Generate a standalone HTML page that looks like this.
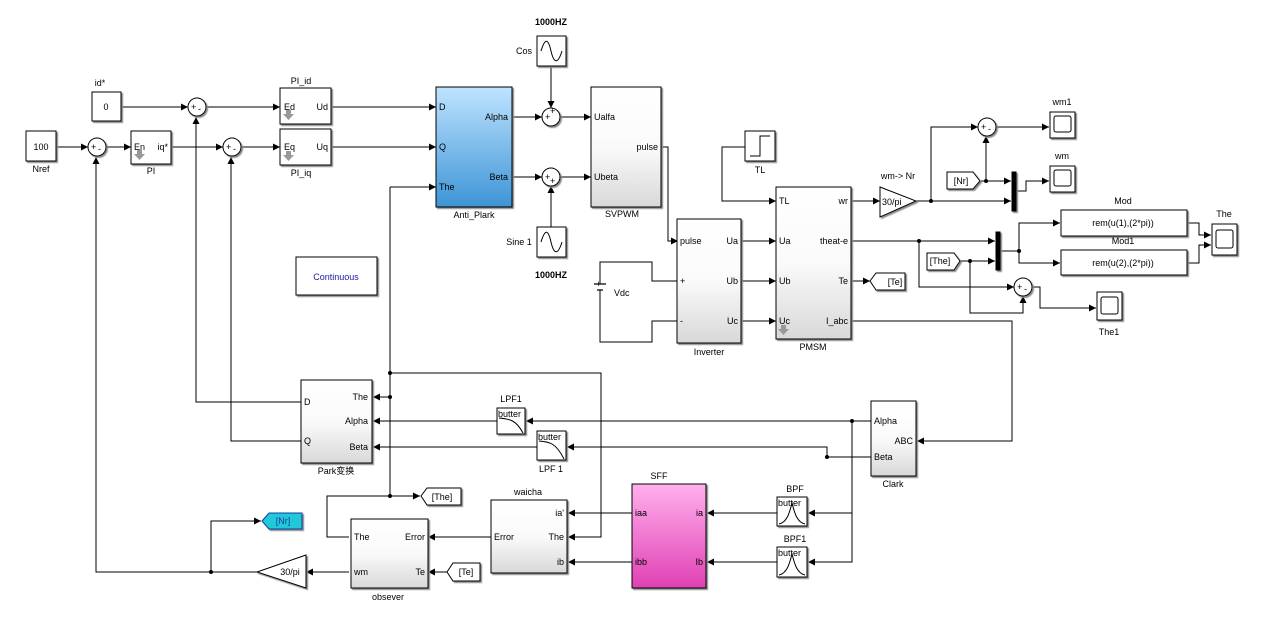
<!DOCTYPE html>
<html><head><meta charset="utf-8"><style>
html,body{margin:0;padding:0;background:#fff;}
svg{display:block;font-family:"Liberation Sans","Noto Sans CJK SC",sans-serif;}
text{font-size:9px;fill:#000;}
</style></head><body>
<svg width="1267" height="621" viewBox="0 0 1267 621" xmlns="http://www.w3.org/2000/svg">
<defs>
<marker id="a" markerWidth="8" markerHeight="8" refX="7" refY="4" orient="auto" markerUnits="userSpaceOnUse"><path d="M0,0.5 L7,4 L0,7.5z" fill="#000"/></marker>
<linearGradient id="g" x1="0" y1="0" x2="0" y2="1"><stop offset="0" stop-color="#fff"/><stop offset="0.5" stop-color="#fafafa"/><stop offset="1" stop-color="#d8d8d8"/></linearGradient>
<linearGradient id="b" x1="0" y1="0" x2="0" y2="1"><stop offset="0" stop-color="#bfe3ff"/><stop offset="1" stop-color="#3d94d6"/></linearGradient>
<linearGradient id="p" x1="0" y1="0" x2="0" y2="1"><stop offset="0" stop-color="#ffb0ec"/><stop offset="1" stop-color="#e040b4"/></linearGradient>
<filter id="s"><feDropShadow dx="1.5" dy="1.5" stdDeviation="0.6" flood-color="#888"/></filter>
</defs>
<g stroke="#000" stroke-width="1" fill="none">
<path d="M56,147H88" marker-end="url(#a)"/>
<path d="M106,147H131" marker-end="url(#a)"/>
<path d="M171,147H223" marker-end="url(#a)"/>
<path d="M241,147H280" marker-end="url(#a)"/>
<path d="M121,107H188" marker-end="url(#a)"/>
<path d="M206,107H280" marker-end="url(#a)"/>
<path d="M331,107H436" marker-end="url(#a)"/>
<path d="M331,147H436" marker-end="url(#a)"/>
<path d="M512,117H542" marker-end="url(#a)"/>
<path d="M512,177H542" marker-end="url(#a)"/>
<path d="M560,117H591" marker-end="url(#a)"/>
<path d="M560,177H591" marker-end="url(#a)"/>
<path d="M551,66V108" marker-end="url(#a)"/>
<path d="M551,227V186" marker-end="url(#a)"/>
<path d="M661,147H668V241H678" marker-end="url(#a)"/>
<path d="M390,187H436" marker-end="url(#a)"/>
<path d="M390,187V496"/>
<path d="M600,275V262H652V281H677"/>
<path d="M600,303V342H652V321H677"/>
<path d="M594,284H606M597,290H603" stroke-width="1.2"/>
<path d="M600,284V275M600,290V303"/>
<path d="M741,241H776" marker-end="url(#a)"/>
<path d="M741,281H776" marker-end="url(#a)"/>
<path d="M741,321H776" marker-end="url(#a)"/>
<path d="M745,147H722V201H776" marker-end="url(#a)"/>
<path d="M851,201H880" marker-end="url(#a)"/>
<path d="M916,201H1011" marker-end="url(#a)"/>
<path d="M931,201V127H978" marker-end="url(#a)"/>
<path d="M996,127H1049" marker-end="url(#a)"/>
<path d="M981,181H1011" marker-end="url(#a)"/>
<path d="M986,181V136" marker-end="url(#a)"/>
<path d="M1016,191H1026V181H1049" marker-end="url(#a)"/>
<path d="M851,241H995" marker-end="url(#a)"/>
<path d="M960,261H995" marker-end="url(#a)"/>
<path d="M919,241V287H1014" marker-end="url(#a)"/>
<path d="M970,261V313H1023V296" marker-end="url(#a)"/>
<path d="M1032,287H1040V308H1096" marker-end="url(#a)"/>
<path d="M1000,251H1019V223H1060" marker-end="url(#a)"/>
<path d="M1019,251V263H1060" marker-end="url(#a)"/>
<path d="M1187,223H1199V235H1211" marker-end="url(#a)"/>
<path d="M1187,263H1199V245H1211" marker-end="url(#a)"/>
<path d="M851,281H870" marker-end="url(#a)"/>
<path d="M851,321H1012V441H917" marker-end="url(#a)"/>
<path d="M871,421H526" marker-end="url(#a)"/>
<path d="M497,421H373" marker-end="url(#a)"/>
<path d="M871,457H827V447H567" marker-end="url(#a)"/>
<path d="M537,447H373" marker-end="url(#a)"/>
<path d="M852,421V562H808" marker-end="url(#a)"/>
<path d="M852,513H808" marker-end="url(#a)"/>
<path d="M777,513H707" marker-end="url(#a)"/>
<path d="M777,562H707" marker-end="url(#a)"/>
<path d="M632,513H568" marker-end="url(#a)"/>
<path d="M632,562H568" marker-end="url(#a)"/>
<path d="M491,537H428" marker-end="url(#a)"/>
<path d="M447,572H428" marker-end="url(#a)"/>
<path d="M390,397H373" marker-end="url(#a)"/>
<path d="M390,373H601V537H568" marker-end="url(#a)"/>
<path d="M390,496H420" marker-end="url(#a)"/>
<path d="M390,496H327V537H349"/>
<path d="M349,572H306" marker-end="url(#a)"/>
<path d="M257,572H96V157" marker-end="url(#a)"/>
<path d="M211,572V521H261" marker-end="url(#a)"/>
<path d="M301,402H196V117" marker-end="url(#a)"/>
<path d="M301,441H231V157" marker-end="url(#a)"/>
</g>
<g fill="#000">
<circle cx="931" cy="201" r="2"/><circle cx="986" cy="181" r="2"/><circle cx="919" cy="241" r="2"/><circle cx="970" cy="261" r="2"/><circle cx="1019" cy="251" r="2"/>
<circle cx="852" cy="421" r="2"/><circle cx="827" cy="457" r="2"/><circle cx="390" cy="373" r="2"/><circle cx="390" cy="397" r="2"/><circle cx="390" cy="496" r="2"/><circle cx="211" cy="572" r="2"/>
</g>
<g stroke="#000" fill="#fff" filter="url(#s)">
<rect x="26" y="131" width="30" height="30"/>
<rect x="92" y="92" width="29" height="29"/>
<rect x="131" y="131" width="40" height="33"/>
<rect x="280" y="88" width="51" height="36"/>
<rect x="280" y="129" width="51" height="36"/>
<rect x="436" y="87" width="76" height="120" fill="url(#b)"/>
<rect x="537" y="36" width="29" height="30"/>
<rect x="537" y="227" width="29" height="30"/>
<rect x="591" y="87" width="70" height="120" fill="url(#g)"/>
<rect x="677" y="219" width="64" height="124" fill="url(#g)"/>
<rect x="776" y="187" width="75" height="152" fill="url(#g)"/>
<rect x="745" y="131" width="30" height="30"/>
<rect x="1050" y="112" width="25" height="26"/>
<rect x="1050" y="166" width="25" height="26"/>
<rect x="1061" y="210" width="126" height="26"/>
<rect x="1061" y="250" width="126" height="25"/>
<rect x="1212" y="224" width="25" height="31"/>
<rect x="1097" y="292" width="25" height="28"/>
<rect x="871" y="401" width="45" height="75" fill="url(#g)"/>
<rect x="301" y="380" width="71" height="83" fill="url(#g)"/>
<rect x="497" y="408" width="28" height="26"/>
<rect x="537" y="431" width="29" height="29"/>
<rect x="777" y="497" width="30" height="29"/>
<rect x="777" y="547" width="30" height="30"/>
<rect x="632" y="484" width="74" height="104" fill="url(#p)"/>
<rect x="491" y="500" width="76" height="73" fill="url(#g)"/>
<rect x="351" y="519" width="77" height="69" fill="url(#g)"/>
<rect x="296" y="257" width="81" height="38"/>
<rect x="1012" y="172" width="4" height="39" fill="#000"/>
<rect x="996" y="232" width="4" height="38" fill="#000"/>
<path d="M880,187L916,201L880,217Z"/>
<path d="M306,555L257,572L306,588Z"/>
<path d="M947,172H973L980,181L973,189H947Z"/>
<path d="M927,253H954L960,261L954,270H927Z"/>
<path d="M447,572L453,563H480V581H453Z"/>
<path d="M421,496L427,488H461V505H427Z"/>
<path d="M870,281L876,273H905V290H876Z"/>
<path d="M262,521L269,513H302V529H269Z" fill="#20c8d8" stroke="#1040a0"/>
<circle cx="97" cy="147" r="9"/><circle cx="197" cy="107" r="9"/><circle cx="232" cy="147" r="9"/>
<circle cx="551" cy="117" r="9"/><circle cx="551" cy="177" r="9"/>
<circle cx="987" cy="127" r="9"/><circle cx="1023" cy="287" r="9"/>
</g>
<g stroke="#000" fill="none">
<path d="M541,51C545,38 548,38 551,51S558,64 562,51"/>
<path d="M541,242C545,229 548,229 551,242S558,255 562,242"/>
<path d="M750,156H760V136H770"/>
<rect x="1054" y="116" width="17" height="16" rx="2"/>
<rect x="1054" y="170" width="17" height="16" rx="2"/>
<rect x="1216" y="230" width="17" height="18" rx="2"/>
<rect x="1101" y="297" width="17" height="17" rx="2"/>
<path d="M499,418C510,419 516,420 523,433"/>
<path d="M539,441C550,442 556,443 564,459"/>
<path d="M779,524C788,522 790,510 792,503C794,510 796,522 805,524"/>
<path d="M779,575C788,573 790,561 792,554C794,561 796,573 805,575"/>
</g>
<g fill="#999" stroke="none">
<path d="M137,150h5v4h3l-5.5,6l-5.5,-6h3z"/>
<path d="M286,110h5v4h3l-5.5,6l-5.5,-6h3z"/>
<path d="M286,151h5v4h3l-5.5,6l-5.5,-6h3z"/>
<path d="M781,325h5v4h3l-5.5,6l-5.5,-6h3z"/>
</g>
<g>
<text x="41" y="150" text-anchor="middle">100</text>
<text x="41" y="172" text-anchor="middle">Nref</text>
<text x="106" y="110" text-anchor="middle">0</text>
<text x="100" y="86" text-anchor="middle">id*</text>
<text x="134" y="150">En</text><text x="168" y="150" text-anchor="end">iq*</text>
<text x="151" y="174" text-anchor="middle">PI</text>
<text x="284" y="110">Ed</text><text x="328" y="110" text-anchor="end">Ud</text>
<text x="284" y="150">Eq</text><text x="328" y="150" text-anchor="end">Uq</text>
<text x="301" y="84" text-anchor="middle">PI_id</text>
<text x="301" y="176" text-anchor="middle">PI_iq</text>
<text x="439" y="110">D</text><text x="439" y="150">Q</text><text x="439" y="190">The</text>
<text x="508" y="120" text-anchor="end">Alpha</text><text x="508" y="180" text-anchor="end">Beta</text>
<text x="474" y="218" text-anchor="middle">Anti_Plark</text>
<text x="551" y="25" text-anchor="middle" font-weight="bold">1000HZ</text>
<text x="524" y="54" text-anchor="middle">Cos</text>
<text x="519" y="245" text-anchor="middle">Sine 1</text>
<text x="551" y="278" text-anchor="middle" font-weight="bold">1000HZ</text>
<text x="594" y="120">Ualfa</text><text x="594" y="180">Ubeta</text><text x="658" y="150" text-anchor="end">pulse</text>
<text x="622" y="217" text-anchor="middle">SVPWM</text>
<text x="680" y="244">pulse</text><text x="680" y="284">+</text><text x="680" y="324">-</text>
<text x="738" y="244" text-anchor="end">Ua</text><text x="738" y="284" text-anchor="end">Ub</text><text x="738" y="324" text-anchor="end">Uc</text>
<text x="709" y="355" text-anchor="middle">Inverter</text>
<text x="614" y="296">Vdc</text>
<text x="779" y="204">TL</text><text x="779" y="244">Ua</text><text x="779" y="284">Ub</text><text x="779" y="324">Uc</text>
<text x="848" y="204" text-anchor="end">wr</text><text x="848" y="244" text-anchor="end">theat-e</text><text x="848" y="284" text-anchor="end">Te</text><text x="848" y="324" text-anchor="end">I_abc</text>
<text x="813" y="350" text-anchor="middle">PMSM</text>
<text x="760" y="173" text-anchor="middle">TL</text>
<text x="898" y="179" text-anchor="middle">wm-&gt; Nr</text>
<text x="882" y="205">30/pi</text>
<text x="1062" y="105" text-anchor="middle">wm1</text>
<text x="1062" y="159" text-anchor="middle">wm</text>
<text x="961" y="184" text-anchor="middle">[Nr]</text>
<text x="940" y="264" text-anchor="middle">[The]</text>
<text x="895" y="285" text-anchor="middle">[Te]</text>
<text x="1123" y="204" text-anchor="middle">Mod</text>
<text x="1123" y="226" text-anchor="middle">rem(u(1),(2*pi))</text>
<text x="1123" y="244" text-anchor="middle">Mod1</text>
<text x="1123" y="266" text-anchor="middle">rem(u(2),(2*pi))</text>
<text x="1224" y="217" text-anchor="middle">The</text>
<text x="1109" y="335" text-anchor="middle">The1</text>
<text x="336" y="280" text-anchor="middle" style="fill:#1a1aa0">Continuous</text>
<text x="874" y="424">Alpha</text><text x="874" y="460">Beta</text><text x="913" y="444" text-anchor="end">ABC</text>
<text x="893" y="487" text-anchor="middle">Clark</text>
<text x="304" y="405">D</text><text x="304" y="444">Q</text>
<text x="368" y="400" text-anchor="end">The</text><text x="368" y="424" text-anchor="end">Alpha</text><text x="368" y="450" text-anchor="end">Beta</text>
<text x="336" y="474" text-anchor="middle">Park变换</text>
<text x="511" y="402" text-anchor="middle">LPF1</text>
<text x="498" y="417">butter</text>
<text x="538" y="440">butter</text>
<text x="551" y="472" text-anchor="middle">LPF 1</text>
<text x="795" y="492" text-anchor="middle">BPF</text>
<text x="778" y="506">butter</text>
<text x="795" y="542" text-anchor="middle">BPF1</text>
<text x="778" y="556">butter</text>
<text x="659" y="479" text-anchor="middle">SFF</text>
<text x="635" y="516">iaa</text><text x="635" y="565">ibb</text>
<text x="703" y="516" text-anchor="end">ia</text><text x="703" y="565" text-anchor="end">Ib</text>
<text x="528" y="495" text-anchor="middle">waicha</text>
<text x="494" y="540">Error</text>
<text x="564" y="516" text-anchor="end">ia'</text><text x="564" y="540" text-anchor="end">The</text><text x="564" y="565" text-anchor="end">ib</text>
<text x="354" y="540">The</text><text x="354" y="575">wm</text>
<text x="425" y="540" text-anchor="end">Error</text><text x="425" y="575" text-anchor="end">Te</text>
<text x="388" y="600" text-anchor="middle">obsever</text>
<text x="442" y="500" text-anchor="middle">[The]</text>
<text x="466" y="575" text-anchor="middle">[Te]</text>
<text x="283" y="524" text-anchor="middle" style="fill:#1040a0">[Nr]</text>
<text x="290" y="575" text-anchor="middle">30/pi</text>
<text x="91" y="150" font-size="7">+</text><text x="98" y="152" font-size="7">-</text>
<text x="191" y="110" font-size="7">+</text><text x="198" y="112" font-size="7">-</text>
<text x="226" y="150" font-size="7">+</text><text x="233" y="152" font-size="7">-</text>
<text x="545" y="120" font-size="7">+</text><text x="550" y="114" font-size="7">+</text>
<text x="545" y="180" font-size="7">+</text><text x="550" y="184" font-size="7">+</text>
<text x="981" y="130" font-size="7">+</text><text x="988" y="132" font-size="7">-</text>
<text x="1017" y="290" font-size="7">+</text><text x="1024" y="292" font-size="7">-</text>
<text x="596" y="287" font-size="7">+</text>
</g>
</svg>
</body></html>
